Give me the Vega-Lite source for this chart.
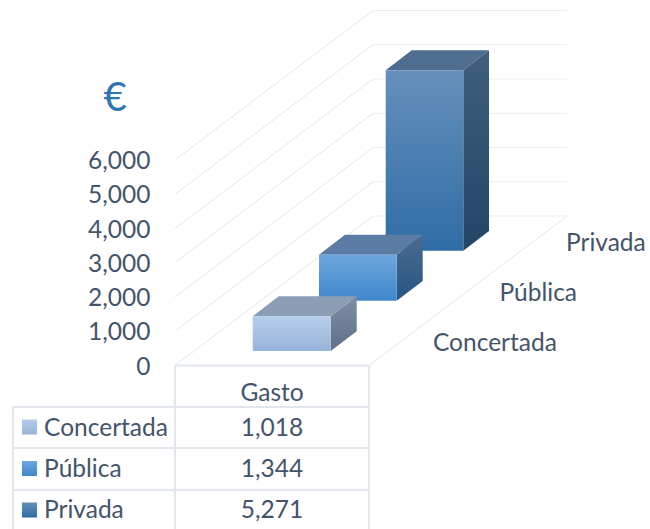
{"$schema":"https://vega.github.io/schema/vega-lite/v6.json","width":650,"height":529,"padding":0,"autosize":"none","background":"white","config":{"view":{"stroke":null},"text":{"font":"Lato","fontSize":24.5,"color":"#44546a"}},
"datasets":{
"barras":[{"serie":"Concertada","gasto":1018},{"serie":"Pública","gasto":1344},{"serie":"Privada","gasto":5271}],
"rejilla":[{"x":0,"y":0,"x2":102.06,"y2":4365},{"x":0,"y":1000,"x2":102.06,"y2":5365},{"x":0,"y":2000,"x2":102.06,"y2":6365},{"x":0,"y":3000,"x2":102.06,"y2":7365},{"x":0,"y":4000,"x2":102.06,"y2":8365},{"x":0,"y":5000,"x2":102.06,"y2":9365},{"x":0,"y":6000,"x2":102.06,"y2":10365},
{"x":102.06,"y":4365,"x2":202.06,"y2":4365},{"x":102.06,"y":5365,"x2":202.06,"y2":5365},{"x":102.06,"y":6365,"x2":202.06,"y2":6365},{"x":102.06,"y":7365,"x2":202.06,"y2":7365},{"x":102.06,"y":8365,"x2":202.06,"y2":8365},{"x":102.06,"y":9365,"x2":202.06,"y2":9365},{"x":102.06,"y":10365,"x2":202.06,"y2":10365},{"x":100,"y":0,"x2":202.06,"y2":4365}],
"tabla":[{"x":0,"y":0,"x2":100,"y2":0},{"x":-83.5,"y":-1212,"x2":100,"y2":-1212},{"x":-83.5,"y":-2409,"x2":100,"y2":-2409},{"x":-83.5,"y":-3635,"x2":100,"y2":-3635},{"x":0,"y":0,"x2":0,"y2":-4800},{"x":100,"y":0,"x2":100,"y2":-4800},{"x":-83.5,"y":-1212,"x2":-83.5,"y2":-4800}],
"caras":[
{"serie":"Privada","cara":"lado","x":148.6,"y":8623,"y2":3352},{"serie":"Privada","cara":"lado","x":161.86,"y":9201,"y2":3930},
{"serie":"Privada","cara":"arriba","x":108.6,"y":8623,"y2":8623},{"serie":"Privada","cara":"arriba","x":122,"y":9201,"y2":8623},{"serie":"Privada","cara":"arriba","x":148.6,"y":9201,"y2":8623},{"serie":"Privada","cara":"arriba","x":161.86,"y":9201,"y2":9201},
{"serie":"Privada","cara":"frente","x":108.6,"y":8623,"y2":3352},{"serie":"Privada","cara":"frente","x":148.6,"y":8623,"y2":3352},
{"serie":"Pública","cara":"lado","x":114.28,"y":3236,"y2":1892},{"serie":"Pública","cara":"lado","x":127.68,"y":3814,"y2":2470},
{"serie":"Pública","cara":"arriba","x":74.23,"y":3236,"y2":3236},{"serie":"Pública","cara":"arriba","x":87.63,"y":3814,"y2":3236},{"serie":"Pública","cara":"arriba","x":114.28,"y":3814,"y2":3236},{"serie":"Pública","cara":"arriba","x":127.68,"y":3814,"y2":3814},
{"serie":"Pública","cara":"frente","x":74.23,"y":3236,"y2":1892},{"serie":"Pública","cara":"frente","x":114.28,"y":3236,"y2":1892},
{"serie":"Concertada","cara":"lado","x":80.26,"y":1441,"y2":423},{"serie":"Concertada","cara":"lado","x":93.66,"y":2019,"y2":1001},
{"serie":"Concertada","cara":"arriba","x":40.05,"y":1441,"y2":1441},{"serie":"Concertada","cara":"arriba","x":53.45,"y":2019,"y2":1441},{"serie":"Concertada","cara":"arriba","x":80.26,"y":2019,"y2":1441},{"serie":"Concertada","cara":"arriba","x":93.66,"y":2019,"y2":2019},
{"serie":"Concertada","cara":"frente","x":40.05,"y":1441,"y2":423},{"serie":"Concertada","cara":"frente","x":80.26,"y":1441,"y2":423}],
"rotulos":[{"t":"Gasto","x":50,"y":-830},{"t":"€","x":-30.9,"y":7781}]
},
"resolve":{"scale":{"x":"independent","y":"independent"}},
"layer":[
{"encoding":{"x":{"field":"x","type":"quantitative","axis":null,"scale":{"domain":[0,100],"range":[175,369],"nice":false,"zero":false}},"y":{"field":"y","type":"quantitative","axis":{"values":[0,1000,2000,3000,4000,5000,6000],"labelExpr":"format(datum.value,',')","title":null,"domain":false,"ticks":false,"grid":false,"offset":-150,"labelPadding":0,"labelOffset":1.5,"labelFont":"Lato","labelFontSize":24.5,"labelColor":"#44546a"},"scale":{"domain":[0,6000],"range":[365.5,160],"nice":false,"zero":false}}},
"layer":[
{"data":{"name":"rejilla"},"mark":{"type":"rule","color":"#ebedf2","strokeWidth":1.2},"encoding":{"x2":{"field":"x2"},"y2":{"field":"y2"}}},
{"data":{"name":"tabla"},"mark":{"type":"rule","color":"#e2e7ef","strokeWidth":2},"encoding":{"x2":{"field":"x2"},"y2":{"field":"y2"}}},
{"data":{"name":"caras"},"transform":[{"filter":"datum.serie=='Privada'&&datum.cara=='lado'"}],"mark":{"type":"area","orient":"vertical","fill":{"gradient":"linear","x1":0,"y1":0,"x2":0,"y2":1,"stops":[{"offset":0,"color":"#415f7e"},{"offset":1,"color":"#234566"}]}},"encoding":{"y2":{"field":"y2"}}},
{"data":{"name":"caras"},"transform":[{"filter":"datum.serie=='Privada'&&datum.cara=='arriba'"}],"mark":{"type":"area","orient":"vertical","fill":"#4e6d8f"},"encoding":{"y2":{"field":"y2"}}},
{"data":{"name":"caras"},"transform":[{"filter":"datum.serie=='Privada'&&datum.cara=='frente'"}],"mark":{"type":"area","orient":"vertical","fill":{"gradient":"linear","x1":0,"y1":0,"x2":0,"y2":1,"stops":[{"offset":0,"color":"#6590bb"},{"offset":1,"color":"#2f6ca5"}]}},"encoding":{"y2":{"field":"y2"}}},
{"data":{"name":"caras"},"transform":[{"filter":"datum.serie=='Pública'&&datum.cara=='lado'"}],"mark":{"type":"area","orient":"vertical","fill":{"gradient":"linear","x1":0,"y1":0,"x2":0,"y2":1,"stops":[{"offset":0,"color":"#4a6b90"},{"offset":1,"color":"#285683"}]}},"encoding":{"y2":{"field":"y2"}}},
{"data":{"name":"caras"},"transform":[{"filter":"datum.serie=='Pública'&&datum.cara=='arriba'"}],"mark":{"type":"area","orient":"vertical","fill":"#5c7ca5"},"encoding":{"y2":{"field":"y2"}}},
{"data":{"name":"caras"},"transform":[{"filter":"datum.serie=='Pública'&&datum.cara=='frente'"}],"mark":{"type":"area","orient":"vertical","fill":{"gradient":"linear","x1":0,"y1":0,"x2":0,"y2":1,"stops":[{"offset":0,"color":"#6ea6de"},{"offset":1,"color":"#3f88cb"}]}},"encoding":{"y2":{"field":"y2"}}},
{"data":{"name":"caras"},"transform":[{"filter":"datum.serie=='Concertada'&&datum.cara=='lado'"}],"mark":{"type":"area","orient":"vertical","fill":{"gradient":"linear","x1":0,"y1":0,"x2":0,"y2":1,"stops":[{"offset":0,"color":"#7d8ea4"},{"offset":1,"color":"#5f7089"}]}},"encoding":{"y2":{"field":"y2"}}},
{"data":{"name":"caras"},"transform":[{"filter":"datum.serie=='Concertada'&&datum.cara=='arriba'"}],"mark":{"type":"area","orient":"vertical","fill":"#8c9eb5"},"encoding":{"y2":{"field":"y2"}}},
{"data":{"name":"caras"},"transform":[{"filter":"datum.serie=='Concertada'&&datum.cara=='frente'"}],"mark":{"type":"area","orient":"vertical","fill":{"gradient":"linear","x1":0,"y1":0,"x2":0,"y2":1,"stops":[{"offset":0,"color":"#b5cdeb"},{"offset":1,"color":"#99b4d9"}]}},"encoding":{"y2":{"field":"y2"}}},
{"data":{"name":"rotulos"},"transform":[{"filter":"datum.t=='Gasto'"}],"mark":{"type":"text"},"encoding":{"text":{"field":"t"}}},
{"data":{"name":"rotulos"},"transform":[{"filter":"datum.t=='€'"}],"mark":{"type":"text","fontSize":40,"color":"#2e75b6"},"encoding":{"text":{"field":"t"}}}
]},
{"data":{"name":"barras"},"mark":{"type":"text","align":"left"},"encoding":{"text":{"field":"serie"},"x":{"field":"serie","type":"nominal","axis":null,"scale":{"type":"point","domain":["Concertada","Pública","Privada"],"range":[433,566],"padding":0}},"y":{"field":"serie","type":"nominal","axis":null,"scale":{"type":"point","domain":["Concertada","Pública","Privada"],"range":[344,244],"padding":0}}}},
{"data":{"name":"barras"},"mark":{"type":"text","align":"left"},"encoding":{"text":{"field":"serie"},"x":{"datum":-67.5,"type":"quantitative","axis":null,"scale":{"domain":[0,100],"range":[175,369],"nice":false,"zero":false}},"y":{"field":"serie","type":"nominal","axis":null,"scale":{"type":"point","domain":["Concertada","Pública","Privada"],"range":[428.5,511],"padding":0}}}},
{"data":{"name":"barras"},"mark":{"type":"text"},"encoding":{"text":{"field":"gasto","type":"quantitative","format":","},"x":{"datum":50,"type":"quantitative","axis":null,"scale":{"domain":[0,100],"range":[175,369],"nice":false,"zero":false}},"y":{"field":"serie","type":"nominal","axis":null,"scale":{"type":"point","domain":["Concertada","Pública","Privada"],"range":[428.5,511],"padding":0}}}},
{"data":{"name":"barras"},"transform":[{"filter":"datum.serie=='Concertada'"}],"mark":{"type":"point","shape":"square","size":225,"strokeWidth":0,"fill":{"gradient":"linear","x1":0,"y1":0,"x2":0,"y2":1,"stops":[{"offset":0,"color":"#b5cdeb"},{"offset":1,"color":"#99b4d9"}]},"opacity":1},"encoding":{"x":{"datum":-75,"type":"quantitative","axis":null,"scale":{"domain":[0,100],"range":[175,369],"nice":false,"zero":false}},"y":{"field":"serie","type":"nominal","axis":null,"scale":{"type":"point","domain":["Concertada","Pública","Privada"],"range":[427,510],"padding":0}}}},
{"data":{"name":"barras"},"transform":[{"filter":"datum.serie=='Pública'"}],"mark":{"type":"point","shape":"square","size":225,"strokeWidth":0,"fill":{"gradient":"linear","x1":0,"y1":0,"x2":0,"y2":1,"stops":[{"offset":0,"color":"#6ea6de"},{"offset":1,"color":"#3f88cb"}]},"opacity":1},"encoding":{"x":{"datum":-75,"type":"quantitative","axis":null,"scale":{"domain":[0,100],"range":[175,369],"nice":false,"zero":false}},"y":{"field":"serie","type":"nominal","axis":null,"scale":{"type":"point","domain":["Concertada","Pública","Privada"],"range":[427,510],"padding":0}}}},
{"data":{"name":"barras"},"transform":[{"filter":"datum.serie=='Privada'"}],"mark":{"type":"point","shape":"square","size":225,"strokeWidth":0,"fill":{"gradient":"linear","x1":0,"y1":0,"x2":0,"y2":1,"stops":[{"offset":0,"color":"#6590bb"},{"offset":1,"color":"#2f6ca5"}]},"opacity":1},"encoding":{"x":{"datum":-75,"type":"quantitative","axis":null,"scale":{"domain":[0,100],"range":[175,369],"nice":false,"zero":false}},"y":{"field":"serie","type":"nominal","axis":null,"scale":{"type":"point","domain":["Concertada","Pública","Privada"],"range":[427,510],"padding":0}}}}
]}
